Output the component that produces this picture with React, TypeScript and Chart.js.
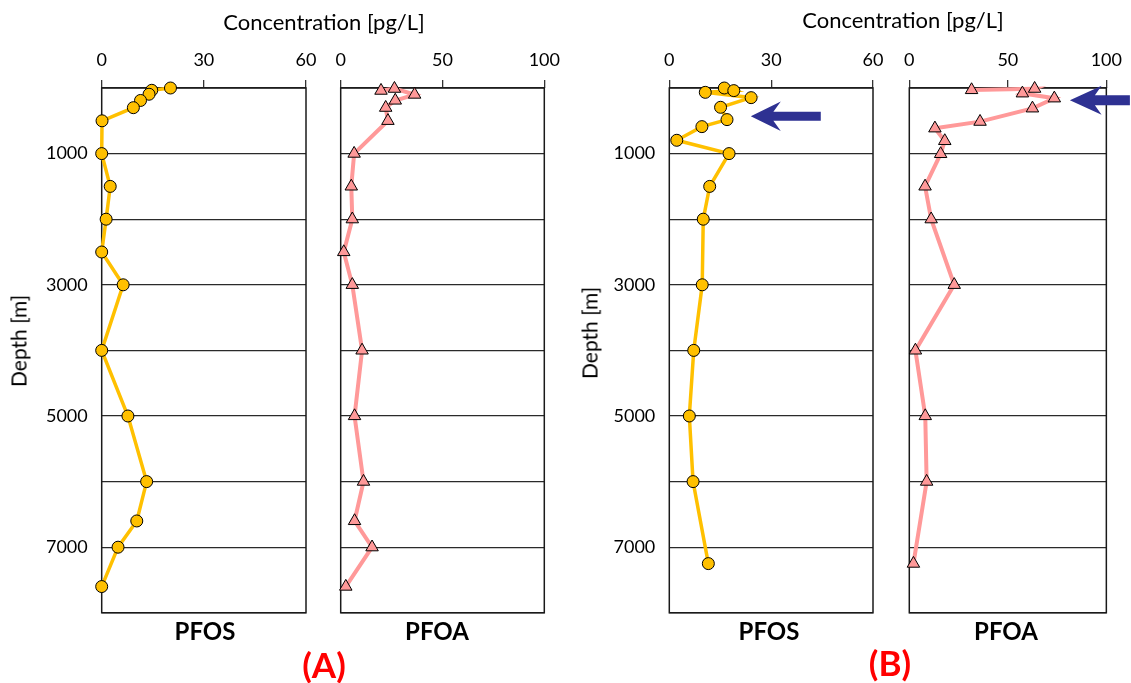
import React, { useEffect, useRef } from 'react';
import { Chart, registerables } from 'chart.js';

Chart.register(...registerables);

// ---------- data ----------
// Panel (A)
const PFOS_A_DEPTH = [0, 35, 95, 190, 300, 500, 1000, 1500, 2000, 2500, 3000, 4000, 5000, 6000, 6600, 7000, 7600];
const PFOS_A_VALUE = [20.2, 14.7, 13.9, 11.4, 9.3, 0.1, 0, 2.5, 1.3, 0, 6.3, 0, 7.7, 13.2, 10.3, 4.8, 0];
const PFOA_A_DEPTH = [40, 10, 100, 190, 300, 500, 1000, 1500, 2000, 2500, 3000, 4000, 5000, 6000, 6600, 7000, 7600];
const PFOA_A_VALUE = [19.8, 26.4, 36.3, 26.8, 22.1, 23.2, 6.6, 5.2, 5.7, 1.5, 5.7, 10.5, 6.8, 11.2, 6.8, 15.4, 2.5];
// Panel (B)
const PFOS_B_DEPTH = [0, 40, 66, 147, 294, 482, 589, 797, 1000, 1500, 2000, 3000, 4000, 5000, 6000, 7250];
const PFOS_B_VALUE = [16.2, 19.0, 10.6, 24.1, 15.1, 17.0, 9.6, 2.2, 17.6, 11.9, 10.0, 9.7, 7.2, 5.9, 7.0, 11.5];
const PFOA_B_DEPTH = [30, 10, 81, 157, 310, 513, 614, 807, 1005, 1500, 2000, 3000, 4000, 5000, 6000, 7250];
const PFOA_B_VALUE = [31.6, 63.6, 57.4, 73.6, 62.5, 35.9, 13.0, 18.0, 15.9, 8.0, 11.1, 22.8, 3.1, 8.1, 8.8, 2.1];

// axis settings
const PFOS_X_TICKS = [0, 30, 60];
const PFOA_X_TICKS = [0, 50, 100];
const DEPTH_MAX = 8000;
const DEPTH_STEP = 1000;
const DEPTH_LABELS = [1000, 3000, 5000, 7000];

// annotation arrows (tip position in data units)
const ARROW_B_PFOS = { x: 24.0, y: 431 };
const ARROW_B_PFOA = { x: 81.5, y: 187 };

// ---------- layout ----------
const W = 1131;
const H = 683;
const FONT = 'Lato, "Open Sans", "DejaVu Sans", sans-serif';
const Y_AXIS_W = 60;
const X_AXIS_H = 88;
const PLOT_BOTTOM = 612.8;

type Arrow = { tip: { x: number; y: number }; head: number; half: number; shaft: number; notch: number; tail: number };
type Panel = {
  left: number;
  right: number;
  depths: number[];
  values: number[];
  ticks: number[];
  kind: 'pfos' | 'pfoa';
  showY: boolean;
  arrow?: Arrow;
};

const PANELS: Panel[] = [
  { left: 101.7, right: 306, depths: PFOS_A_DEPTH, values: PFOS_A_VALUE, ticks: PFOS_X_TICKS, kind: 'pfos', showY: true },
  { left: 340.7, right: 544.3, depths: PFOA_A_DEPTH, values: PFOA_A_VALUE, ticks: PFOA_X_TICKS, kind: 'pfoa', showY: false },
  {
    left: 669.3, right: 873, depths: PFOS_B_DEPTH, values: PFOS_B_VALUE, ticks: PFOS_X_TICKS, kind: 'pfos', showY: true,
    arrow: { tip: ARROW_B_PFOS, head: 30, half: 14.7, shaft: 4.6, notch: 22.6, tail: 70 },
  },
  {
    left: 909.3, right: 1112.7, depths: PFOA_B_DEPTH, values: PFOA_B_VALUE, ticks: PFOA_X_TICKS, kind: 'pfoa', showY: false,
    arrow: { tip: ARROW_B_PFOA, head: 31.7, half: 14.6, shaft: 5, notch: 25, tail: 60 },
  },
];

const PFOS_COLOR = '#FFC000';
const PFOA_COLOR = '#FF9999';
const ARROW_COLOR = '#2E3192';

const boxPlugin = {
  id: 'plotBox',
  beforeDatasetsDraw(chart: any) {
    const { ctx, chartArea } = chart;
    ctx.save();
    ctx.strokeStyle = '#1a1a1a';
    ctx.lineWidth = 1.5;
    ctx.strokeRect(chartArea.left, chartArea.top, chartArea.right - chartArea.left, chartArea.bottom - chartArea.top);
    ctx.restore();
  },
};

const arrowPlugin = {
  id: 'arrowNote',
  afterDraw(chart: any, _args: any, opts: any) {
    const a: Arrow | undefined = opts && opts.arrow;
    if (!a) return;
    const { ctx } = chart;
    const tx = chart.scales.x.getPixelForValue(a.tip.x);
    const ty = chart.scales.y.getPixelForValue(a.tip.y);
    ctx.save();
    ctx.fillStyle = ARROW_COLOR;
    ctx.beginPath();
    ctx.moveTo(tx, ty);
    ctx.lineTo(tx + a.head, ty - a.half);
    ctx.lineTo(tx + a.notch, ty - a.shaft);
    ctx.lineTo(tx + a.tail, ty - a.shaft);
    ctx.lineTo(tx + a.tail, ty + a.shaft);
    ctx.lineTo(tx + a.notch, ty + a.shaft);
    ctx.lineTo(tx + a.head, ty + a.half);
    ctx.closePath();
    ctx.fill();
    ctx.restore();
  },
};

function PanelChart({ panel }: { panel: Panel }) {
  const ref = useRef<HTMLCanvasElement | null>(null);
  useEffect(() => {
    if (!ref.current) return;
    const isPfos = panel.kind === 'pfos';
    const color = isPfos ? PFOS_COLOR : PFOA_COLOR;
    const xMax = panel.ticks[panel.ticks.length - 1];
    const chart = new Chart(ref.current, {
      type: 'scatter',
      data: {
        datasets: [
          {
            data: panel.values.map((v, i) => ({ x: v, y: panel.depths[i] })),
            showLine: true,
            borderColor: color,
            borderWidth: isPfos ? 3.5 : 4,
            backgroundColor: color,
            pointBackgroundColor: color,
            pointBorderColor: '#000',
            pointBorderWidth: 1,
            pointStyle: isPfos ? 'circle' : 'triangle',
            pointRadius: isPfos ? 6 : 7.2,
            tension: 0,
            clip: false as any,
          } as any,
        ],
      },
      options: {
        responsive: false,
        maintainAspectRatio: false,
        animation: false,
        events: [],
        layout: {
          padding: { left: panel.left - Y_AXIS_W, right: W - panel.right, top: 0, bottom: H - PLOT_BOTTOM },
        },
        plugins: {
          legend: { display: false },
          tooltip: { enabled: false },
          arrowNote: { arrow: panel.arrow },
        } as any,
        scales: {
          x: {
            type: 'linear',
            position: 'top',
            min: 0,
            max: xMax,
            afterBuildTicks: (s: any) => {
              s.ticks = panel.ticks.map((v) => ({ value: v }));
            },
            ticks: { font: { family: FONT, size: 18 }, color: '#000', padding: 9, maxRotation: 0 },
            grid: { drawOnChartArea: false, drawTicks: true, tickLength: 8, color: '#333', lineWidth: 1.3 },
            border: { display: false },
            afterFit: (s: any) => {
              s.height = X_AXIS_H;
            },
          },
          y: {
            type: 'linear',
            reverse: true,
            min: 0,
            max: DEPTH_MAX,
            ticks: {
              stepSize: DEPTH_STEP,
              autoSkip: false,
              display: panel.showY,
              callback: (v: any) => (DEPTH_LABELS.includes(Number(v)) ? String(v) : ''),
              font: { family: FONT, size: 18 },
              color: '#000',
              padding: 14,
            },
            grid: { drawTicks: false, color: '#2a2a2a', lineWidth: 1.3 },
            border: { display: false },
            afterFit: (s: any) => {
              s.width = Y_AXIS_W;
            },
          },
        },
      },
      plugins: [boxPlugin, arrowPlugin],
    });
    return () => chart.destroy();
  }, [panel]);
  return (
    <canvas
      ref={ref}
      width={W}
      height={H}
      style={{ position: 'absolute', left: 0, top: 0, width: W, height: H, pointerEvents: 'none' }}
    />
  );
}

function Label({ text, cx, top, size, bold, color }: { text: string; cx: number; top: number; size: number; bold?: boolean; color?: string }) {
  return (
    <div
      style={{
        position: 'absolute',
        left: cx,
        top,
        transform: 'translateX(-50%)',
        fontFamily: FONT,
        fontSize: size,
        lineHeight: `${size}px`,
        fontWeight: bold ? 700 : 400,
        color: color || '#000',
        whiteSpace: 'nowrap',
      }}
    >
      {text}
    </div>
  );
}

function VLabel({ text, cx, cy, size }: { text: string; cx: number; cy: number; size: number }) {
  return (
    <div
      style={{
        position: 'absolute',
        left: cx,
        top: cy,
        transform: 'translate(-50%, -50%) rotate(-90deg)',
        fontFamily: FONT,
        fontSize: size,
        lineHeight: `${size}px`,
        color: '#000',
        whiteSpace: 'nowrap',
      }}
    >
      {text}
    </div>
  );
}

export default function App() {
  return (
    <div style={{ position: 'absolute', left: 0, top: 0, width: W, height: H, background: '#fff', overflow: 'hidden' }}>
      {PANELS.map((p, i) => (
        <PanelChart key={i} panel={p} />
      ))}
      <Label text="Concentration [pg/L]" cx={324} top={11} size={22} />
      <Label text="Concentration [pg/L]" cx={903} top={9} size={22} />
      <VLabel text="Depth [m]" cx={18} cy={341} size={21} />
      <VLabel text="Depth [m]" cx={589} cy={333} size={21} />
      <Label text="PFOS" cx={205} top={619} size={24} bold />
      <Label text="PFOA" cx={437} top={619} size={24} bold />
      <Label text="PFOS" cx={769} top={619} size={24} bold />
      <Label text="PFOA" cx={1006} top={619} size={24} bold />
      <Label text="(A)" cx={324} top={647} size={35} bold color="#FF0000" />
      <Label text="(B)" cx={890} top={645} size={35} bold color="#FF0000" />
    </div>
  );
}
